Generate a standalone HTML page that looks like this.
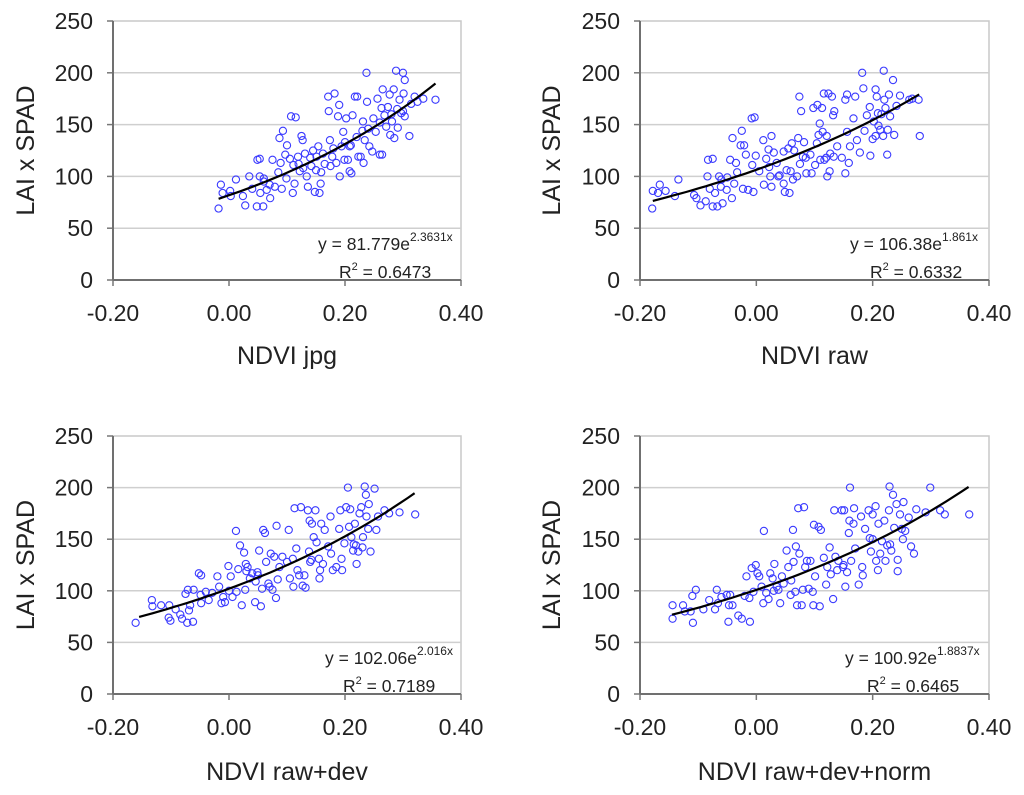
<!DOCTYPE html>
<html><head><meta charset="utf-8"><style>
html,body{margin:0;padding:0;background:#fff;}
svg{display:block;font-family:"Liberation Sans",Arial,sans-serif;}
</style></head><body>
<svg id="chart" width="1024" height="795" viewBox="0 0 1024 795" xmlns="http://www.w3.org/2000/svg"></svg>
<script>
const xTicks = [-0.2, 0, 0.2, 0.4];
const xTickLabels = ["-0.20", "0.00", "0.20", "0.40"];
const yTicks = [0, 50, 100, 150, 200, 250];
const yTickLabels = ["0", "50", "100", "150", "200", "250"];
const panelTitles = ["NDVI jpg", "NDVI raw", "NDVI raw+dev", "NDVI raw+dev+norm"];
const fitA = [81.779, 106.38, 102.06, 100.92];
const fitB = [2.3631, 1.861, 2.016, 1.8837];
const fitRange = [[-0.018, 0.356], [-0.178, 0.28], [-0.155, 0.32], [-0.145, 0.365]];
const eqCoef = ["81.779", "106.38", "102.06", "100.92"];
const eqExp = ["2.3631x", "1.861x", "2.016x", "1.8837x"];
const r2Labels = ["0.6473", "0.6332", "0.7189", "0.6465"];

const pts1 = [[-0.018,69],[-0.014,92],[-0.011,84],[0.002,86],[0.003,81],[0.012,97],[0.024,81],[0.028,72],[0.035,100],[0.04,88],[0.048,71],[0.049,116],[0.053,117],[0.053,100],[0.054,84],[0.059,71],[0.06,98],[0.065,87],[0.071,79],[0.075,116],[0.079,90],[0.085,104],[0.087,137],[0.089,113],[0.091,88],[0.093,144],[0.097,121],[0.099,98],[0.1,130],[0.107,158],[0.11,84],[0.111,111],[0.113,93],[0.115,157],[0.119,119],[0.122,105],[0.125,139],[0.127,135],[0.131,122],[0.134,100],[0.136,90],[0.142,110],[0.148,85],[0.151,119],[0.154,129],[0.156,84],[0.158,93],[0.159,104],[0.162,122],[0.171,177],[0.172,163],[0.174,135],[0.175,110],[0.178,119],[0.182,180],[0.185,113],[0.188,158],[0.19,169],[0.191,100],[0.194,129],[0.197,143],[0.199,116],[0.202,156],[0.205,116],[0.208,129],[0.208,105],[0.211,103],[0.213,159],[0.217,177],[0.221,177],[0.223,119],[0.227,119],[0.23,144],[0.231,153],[0.232,113],[0.234,135],[0.237,200],[0.238,172],[0.242,129],[0.247,124],[0.249,156],[0.253,143],[0.256,175],[0.26,121],[0.263,166],[0.264,121],[0.265,184],[0.268,159],[0.271,148],[0.274,167],[0.277,179],[0.278,140],[0.281,153],[0.284,184],[0.285,137],[0.288,202],[0.291,147],[0.294,174],[0.297,161],[0.3,200],[0.301,180],[0.303,193],[0.303,158],[0.311,139],[0.314,170],[0.32,177],[0.325,172],[0.335,175],[0.356,174],[0.06,95],[0.07,92],[0.12,112],[0.14,118],[0.15,106],[0.165,112],[0.18,127],[0.2,133],[0.21,130],[0.145,125],[0.128,108],[0.105,117],[0.26,152],[0.28,160],[0.29,165],[0.3,163],[0.24,146],[0.22,138]];
const pts2 = [[-0.179,69],[-0.178,86],[-0.169,84],[-0.166,92],[-0.156,86],[-0.14,81],[-0.134,97],[-0.107,82],[-0.103,79],[-0.096,72],[-0.087,76],[-0.084,100],[-0.083,116],[-0.08,88],[-0.075,117],[-0.075,71],[-0.071,84],[-0.067,71],[-0.064,100],[-0.061,90],[-0.058,74],[-0.051,87],[-0.045,116],[-0.042,79],[-0.041,137],[-0.038,93],[-0.035,113],[-0.033,104],[-0.027,130],[-0.025,144],[-0.023,88],[-0.021,130],[-0.018,121],[-0.014,87],[-0.008,156],[-0.007,111],[-0.005,85],[-0.003,157],[-0.001,120],[0.005,105],[0.012,135],[0.013,92],[0.017,117],[0.021,126],[0.022,109],[0.024,100],[0.026,90],[0.026,139],[0.03,123],[0.035,113],[0.038,100],[0.047,124],[0.047,93],[0.049,85],[0.052,106],[0.055,127],[0.057,84],[0.059,105],[0.061,132],[0.063,97],[0.07,100],[0.072,137],[0.074,177],[0.075,112],[0.077,163],[0.08,119],[0.082,133],[0.086,103],[0.093,121],[0.095,103],[0.098,166],[0.101,111],[0.104,132],[0.105,169],[0.107,140],[0.109,151],[0.11,116],[0.113,166],[0.114,143],[0.116,180],[0.117,116],[0.121,139],[0.122,100],[0.124,180],[0.126,105],[0.127,122],[0.13,177],[0.132,159],[0.133,119],[0.134,163],[0.139,129],[0.147,118],[0.153,174],[0.153,103],[0.156,179],[0.156,143],[0.159,113],[0.161,129],[0.167,156],[0.17,177],[0.173,135],[0.178,123],[0.182,200],[0.184,185],[0.186,144],[0.19,159],[0.195,167],[0.196,120],[0.202,153],[0.205,184],[0.205,139],[0.207,177],[0.209,161],[0.21,149],[0.213,145],[0.218,139],[0.219,202],[0.22,174],[0.222,166],[0.225,121],[0.226,145],[0.228,179],[0.23,158],[0.235,193],[0.237,140],[0.241,168],[0.247,178],[0.263,174],[0.268,175],[0.279,174],[0.281,139],[-0.06,97],[-0.05,99],[0.04,101],[0.065,125],[0.085,118],[0.12,118],[0.2,136],[0.215,160]];
const pts3 = [[-0.161,69],[-0.133,91],[-0.132,85],[-0.117,86],[-0.104,74],[-0.101,71],[-0.103,86],[-0.092,82],[-0.084,77],[-0.081,73],[-0.075,97],[-0.072,69],[-0.071,101],[-0.069,81],[-0.067,86],[-0.062,70],[-0.061,101],[-0.052,117],[-0.049,96],[-0.048,115],[-0.048,88],[-0.035,91],[-0.029,98],[-0.02,114],[-0.017,104],[-0.013,88],[-0.01,94],[-0.007,89],[-0.001,124],[0.003,114],[0.006,94],[0.012,158],[0.013,99],[0.016,121],[0.019,144],[0.022,86],[0.026,137],[0.028,101],[0.029,126],[0.032,123],[0.036,112],[0.04,117],[0.045,89],[0.046,109],[0.049,118],[0.052,139],[0.055,85],[0.057,102],[0.059,159],[0.062,156],[0.064,128],[0.068,107],[0.072,136],[0.075,101],[0.078,133],[0.081,93],[0.082,163],[0.084,111],[0.087,123],[0.092,133],[0.103,159],[0.105,112],[0.11,131],[0.111,104],[0.113,180],[0.116,141],[0.118,120],[0.121,115],[0.124,181],[0.127,105],[0.13,115],[0.132,103],[0.136,178],[0.138,138],[0.139,168],[0.142,130],[0.143,165],[0.146,152],[0.149,178],[0.151,147],[0.156,112],[0.157,120],[0.159,165],[0.162,126],[0.165,159],[0.171,143],[0.175,172],[0.176,136],[0.179,120],[0.185,123],[0.19,160],[0.192,178],[0.194,131],[0.195,120],[0.199,146],[0.202,181],[0.205,200],[0.207,162],[0.209,179],[0.211,152],[0.214,139],[0.217,165],[0.219,144],[0.22,126],[0.223,138],[0.225,175],[0.228,181],[0.231,152],[0.234,201],[0.236,193],[0.237,172],[0.24,160],[0.241,184],[0.244,138],[0.251,199],[0.254,159],[0.257,172],[0.268,178],[0.276,175],[0.294,176],[0.321,174],[0.03,119],[0.05,115],[0.07,104],[0.1,128],[0.14,128],[0.155,131],[0.215,145],[0.23,142],[-0.04,99],[0.0,100]];
const pts4 = [[-0.144,86],[-0.144,73],[-0.126,86],[-0.123,80],[-0.113,80],[-0.11,95],[-0.109,69],[-0.104,101],[-0.091,82],[-0.081,91],[-0.071,82],[-0.068,101],[-0.066,88],[-0.06,94],[-0.051,96],[-0.048,70],[-0.047,86],[-0.045,96],[-0.041,86],[-0.031,76],[-0.025,73],[-0.017,114],[-0.012,93],[-0.011,70],[-0.008,122],[-0.005,99],[-0.001,125],[0.002,117],[0.005,114],[0.009,104],[0.012,88],[0.013,158],[0.017,98],[0.021,92],[0.024,117],[0.028,112],[0.031,126],[0.035,104],[0.038,101],[0.041,88],[0.044,114],[0.047,107],[0.052,139],[0.055,123],[0.059,96],[0.063,159],[0.064,128],[0.067,99],[0.068,143],[0.07,86],[0.072,180],[0.074,136],[0.078,86],[0.08,101],[0.082,181],[0.084,123],[0.087,129],[0.093,129],[0.097,99],[0.098,86],[0.099,164],[0.101,114],[0.107,162],[0.109,85],[0.111,159],[0.116,132],[0.12,106],[0.122,123],[0.126,142],[0.128,116],[0.132,92],[0.134,178],[0.136,133],[0.139,120],[0.141,129],[0.147,178],[0.149,123],[0.151,178],[0.153,104],[0.156,118],[0.159,156],[0.16,168],[0.161,200],[0.163,129],[0.167,165],[0.168,180],[0.17,141],[0.176,106],[0.18,172],[0.182,123],[0.183,115],[0.187,160],[0.193,178],[0.195,151],[0.197,138],[0.2,174],[0.205,182],[0.206,129],[0.209,120],[0.21,165],[0.213,136],[0.216,148],[0.22,168],[0.222,129],[0.225,144],[0.228,178],[0.229,201],[0.232,139],[0.235,193],[0.237,161],[0.241,184],[0.243,130],[0.243,119],[0.247,174],[0.252,150],[0.253,186],[0.256,158],[0.262,171],[0.266,143],[0.271,136],[0.275,179],[0.291,176],[0.299,200],[0.316,178],[0.324,174],[0.366,174],[0.03,100],[0.06,110],[0.09,102],[0.15,125],[0.2,150],[0.23,145],[0.25,160],[-0.02,95]];
const allPts = [pts1, pts2, pts3, pts4];

const panels = [
  {l:113, r:461, t:21, b:280, ylabX:26, xtitleY:364, eqX:318, eqY:250, r2X:339, r2Y:278},
  {l:640, r:989, t:21, b:280, ylabX:552, xtitleY:364, eqX:850, eqY:250, r2X:870, r2Y:278},
  {l:113, r:461, t:436, b:694, ylabX:26, xtitleY:780, eqX:325, eqY:664, r2X:343, r2Y:692},
  {l:640, r:989, t:436, b:694, ylabX:552, xtitleY:780, eqX:845, eqY:664, r2X:867, r2Y:692}
];
const NS = "http://www.w3.org/2000/svg";
const svg = document.getElementById('chart');
function mk(tag, attrs, parent, text){
  const e = document.createElementNS(NS, tag);
  for (const k in attrs) e.setAttribute(k, attrs[k]);
  if (text !== undefined) e.textContent = text;
  parent.appendChild(e);
  return e;
}
panels.forEach((p, i) => {
  const sx = v => p.l + (v - (-0.2)) / 0.6 * (p.r - p.l);
  const sy = v => p.b - v / 250 * (p.b - p.t);
  const g = mk('g', {}, svg);
  
  
  const fr = mk('rect', {x:p.l, y:p.t, width:p.r-p.l, height:p.b-p.t, fill:'none', stroke:'#c8c8c8', 'stroke-width':1.5}, g);
  
  
  yTicks.forEach((v, k) => {
    if (v > 0 && v < 250) {
      const gl = mk('line', {x1:p.l, x2:p.r, y1:sy(v), y2:sy(v), stroke:'#cfcfcf', 'stroke-width':1.5}, g);
      
      
    }
    mk('line', {x1:p.l-6, x2:p.l, y1:sy(v), y2:sy(v), stroke:'#777', 'stroke-width':1.5}, g);
    const t = mk('text', {x:p.l-20, y:sy(v)+8, 'text-anchor':'end', 'font-size':23, fill:'#222'}, g, yTickLabels[k]);
    
    
  });
  xTicks.forEach((v, k) => {
    mk('line', {x1:sx(v), x2:sx(v), y1:p.b, y2:p.b+6, stroke:'#777', 'stroke-width':1.5}, g);
    const t = mk('text', {x:sx(v), y:p.b+41, 'text-anchor':'middle', 'font-size':23, fill:'#222'}, g, xTickLabels[k]);
    
    
  });
  const ya = mk('line', {x1:p.l, x2:p.l, y1:p.t, y2:p.b, stroke:'#707070', 'stroke-width':2}, g);
  
  
  const xa = mk('line', {x1:p.l, x2:p.r, y1:p.b, y2:p.b, stroke:'#707070', 'stroke-width':2}, g);
  
  
  const cy = (p.t + p.b) / 2;
  const yt = mk('text', {x:p.ylabX, y:cy, transform:`rotate(-90 ${p.ylabX} ${cy})`, 'text-anchor':'middle', 'dominant-baseline':'central', 'font-size':25, fill:'#222'}, g, 'LAI x SPAD');
  
  
  const xt = mk('text', {x:(p.l+p.r)/2, y:p.xtitleY, 'text-anchor':'middle', 'font-size':25, fill:'#222'}, g, panelTitles[i]);
  
  
  allPts[i].forEach(pt => {
    const c = mk('circle', {cx:sx(pt[0]), cy:sy(pt[1]), r:3.6, fill:'none', stroke:'#3a3aff', 'stroke-width':1.1}, g);
    
    
  });
  let d = '';
  const [x0, x1] = fitRange[i];
  for (let s = 0; s <= 40; s++) {
    const xv = x0 + (x1 - x0) * s / 40;
    d += (s ? 'L' : 'M') + sx(xv).toFixed(1) + ',' + sy(fitA[i] * Math.exp(fitB[i] * xv)).toFixed(1);
  }
  const tl = mk('path', {d:d, fill:'none', stroke:'#000', 'stroke-width':2.2}, g);
  
  
  const eq = mk('text', {x:p.eqX, y:p.eqY, 'font-size':17.5, fill:'#222'}, g);
  
  
  mk('tspan', {}, eq, 'y = ' + eqCoef[i] + 'e');
  mk('tspan', {dy:-9, 'font-size':12}, eq, eqExp[i]);
  const r2 = mk('text', {x:p.r2X, y:p.r2Y, 'font-size':17.5, fill:'#222'}, g);
  
  
  mk('tspan', {}, r2, 'R');
  mk('tspan', {dy:-8, 'font-size':11}, r2, '2');
  mk('tspan', {dy:8}, r2, ' = ' + r2Labels[i]);
});
</script>
</body></html>
